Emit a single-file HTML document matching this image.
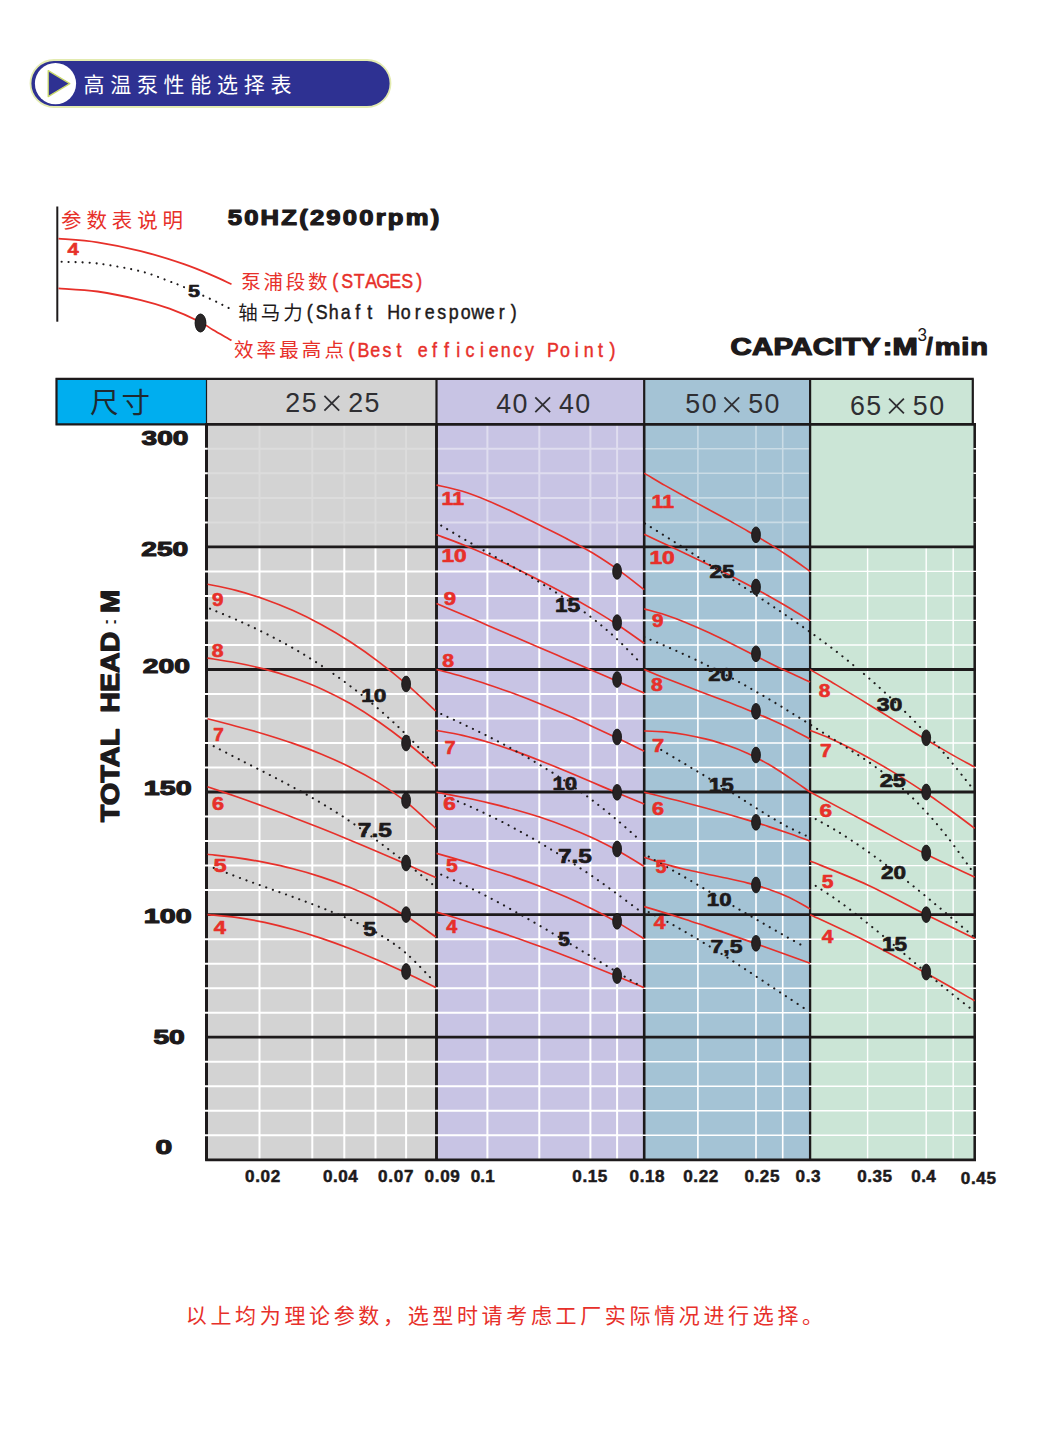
<!DOCTYPE html>
<html lang="zh"><head><meta charset="utf-8"><title>高温泵性能选择表</title>
<style>html,body{margin:0;padding:0;background:#fff}svg{display:block}text{font-family:"Liberation Sans",sans-serif}text.cjk{font-family:"Liberation Sans","Noto Sans CJK SC",sans-serif}</style></head><body>
<svg width="1042" height="1449" viewBox="0 0 1042 1449">
<rect width="1042" height="1449" fill="#fff"/>
<g><title>高温泵性能选择表</title>
<rect x="30.5" y="60" width="360" height="47" rx="23.5" fill="#2e3192" stroke="#e3ebb0" stroke-width="1.8"/>
<circle cx="55.5" cy="83.6" r="20.6" fill="#fff"/>
<path d="M48.2 70.6L69.8 83.6L48.2 96.6Z" fill="#2e3192" stroke="#c9d86a" stroke-width="1.3" stroke-linejoin="round"/>
<text class="cjk" x="83.5" y="91.8" font-size="21" letter-spacing="5.7" fill="#fff">高温泵性能选择表</text>
</g>
<g><title>参数表说明</title>
<path d="M57.3 206.5V321.7" stroke="#1d1a1b" stroke-width="2" fill="none"/>
<text class="cjk" x="61" y="227.8" font-size="20.5" letter-spacing="4.9" fill="#e7302a">参数表说明</text>
</g>
<text transform="translate(227.7 224.6) scale(1.17 1)" font-size="21.9" font-weight="bold" fill="#1d1a1b" stroke="#1d1a1b" stroke-width="1.2" stroke-linejoin="round" letter-spacing="1.883">50HZ(2900rpm)</text>
<path d="M58.5 238.6C65 239.2 83.9 240.2 97.6 242.3C111.3 244.4 126.4 247.5 140.8 251.1C155.2 254.7 172 260 184 264.1C196 268.2 204.9 272.2 212.8 275.6C220.7 279 228.4 282.9 231.5 284.3" fill="none" stroke="#e7302a" stroke-width="1.8"/>
<path d="M58.5 288.4C65 288.9 83.9 289.6 97.6 291.5C111.3 293.4 128.8 297.2 140.8 300.1C152.8 303 159.8 305.1 169.6 308.7C179.4 312.3 192.6 318.2 199.8 321.7C207 325.2 207.5 326.7 212.8 329.8C218.1 332.9 228.4 338.6 231.5 340.4" fill="none" stroke="#e7302a" stroke-width="1.8"/>
<path d="M61.6 261.8C67.6 262.1 84.4 261.9 97.6 263.5C110.8 265.1 128.8 268.3 140.8 271.3C152.8 274.3 162.4 278.8 169.6 281.4C176.8 284 176.8 284 184 287.1C191.2 290.2 205.1 296.5 212.8 300.1C220.5 303.7 227.1 307.3 230 308.7" fill="none" stroke="#1d1a1b" stroke-width="2.1" stroke-linecap="round" stroke-dasharray="0.1 6.9"/>
<ellipse cx="200.5" cy="323" rx="5.4" ry="9" fill="#2a2627" stroke="#111" stroke-width="1"/>
<text transform="translate(67.4 255.2) scale(1.302 1)" font-size="15.6" font-weight="bold" fill="#e7302a" stroke="#e7302a" stroke-width="0.5" stroke-linejoin="round">4</text>
<text transform="translate(188 297.3) scale(1.307 1)" font-size="16.5" font-weight="bold" fill="#1d1a1b" stroke="#1d1a1b" stroke-width="0.6" stroke-linejoin="round">5</text>
<g><title>泵浦段数(STAGES)</title>
<text class="cjk" x="241.3" y="288.5" font-size="19.5" letter-spacing="2.7" fill="#e7302a">泵浦段数</text>
<text transform="scale(0.9 1)" x="372.6 385.9 399.2 412.5 425.8 439.2 452.5 465.8" y="288.2" font-size="19.8" fill="#e7302a" stroke="#e7302a" stroke-width="0.45" text-anchor="middle">(STAGES)</text>
</g>
<g><title>轴马力(Shaft Horespower)</title>
<text class="cjk" x="238.3" y="319.6" font-size="19.5" letter-spacing="3" fill="#1d1a1b">轴马力</text>
<text transform="scale(0.9 1)" x="344.1 357.4 370.8 384.1 397.4 410.8 424.1 437.4 450.8 464.1 477.4 490.8 504.1 517.4 530.8 544.1 557.4 570.8" y="319.4" font-size="19.8" fill="#1d1a1b" stroke="#1d1a1b" stroke-width="0.45" text-anchor="middle">(Shaft&#160;Horespower)</text>
</g>
<g><title>效率最高点(Best efficiency Point)</title>
<text class="cjk" x="234" y="357.2" font-size="19.5" letter-spacing="3.1" fill="#e7302a">效率最高点</text>
<text transform="scale(0.9 1)" x="390.6 403.8 416.9 430.1 443.3 456.4 469.6 482.8 496 509.1 522.3 535.5 548.7 561.8 575 588.2 601.3 614.5 627.7 640.9 654 667.2 680.4" y="357.2" font-size="19.8" fill="#e7302a" stroke="#e7302a" stroke-width="0.45" text-anchor="middle">(Best&#160;efficiency&#160;Point)</text>
</g>
<text transform="translate(730.4 354.7) scale(1.28 1)" font-size="23" font-weight="bold" fill="#1d1a1b" stroke="#1d1a1b" stroke-width="1.2" stroke-linejoin="round" letter-spacing="0.209">CAPACITY</text>
<text transform="translate(883 354.8) scale(1.195 1)" font-size="23" font-weight="bold" fill="#1d1a1b" stroke="#1d1a1b" stroke-width="1.2" stroke-linejoin="round">:</text>
<text transform="translate(892.4 354.8) scale(1.319 1)" font-size="23" font-weight="bold" fill="#1d1a1b" stroke="#1d1a1b" stroke-width="1.2" stroke-linejoin="round">M</text>
<text transform="translate(917.5 341.4) scale(0.909 1)" font-size="18.8" font-weight="normal" fill="#1d1a1b">3</text>
<text transform="translate(926.1 354.6) scale(1.066 1)" font-size="23" font-weight="bold" fill="#1d1a1b" stroke="#1d1a1b" stroke-width="1" stroke-linejoin="round">/</text>
<text transform="translate(934.7 354.8) scale(1.26 1)" font-size="23" font-weight="bold" fill="#1d1a1b" stroke="#1d1a1b" stroke-width="1.2" stroke-linejoin="round" letter-spacing="0.704">min</text>
<rect x="56.5" y="378.9" width="150" height="45.4" fill="#00aeef"/>
<rect x="206.5" y="378.9" width="230" height="45.4" fill="#d3d3d3"/>
<rect x="436.5" y="378.9" width="207.7" height="45.4" fill="#c8c4e4"/>
<rect x="644.2" y="378.9" width="165.9" height="45.4" fill="#a4c3d5"/>
<rect x="810.1" y="378.9" width="162.7" height="45.4" fill="#cbe5d6"/>
<rect x="206.5" y="424.3" width="230" height="735.5" fill="#d3d3d3"/>
<rect x="436.5" y="424.3" width="207.7" height="735.5" fill="#c8c4e4"/>
<rect x="644.2" y="424.3" width="165.9" height="735.5" fill="#a4c3d5"/>
<rect x="810.1" y="424.3" width="164.6" height="735.5" fill="#cbe5d6"/>
<path d="M206.5 424.3V1160.8" stroke="#1d1a1b" stroke-width="3.0" fill="none"/>
<path d="M436.5 424.3V1160.8" stroke="#1d1a1b" stroke-width="2.9" fill="none"/>
<path d="M644.2 424.3V1160.8" stroke="#1d1a1b" stroke-width="2.6" fill="none"/>
<path d="M810.1 424.3V1160.8" stroke="#1d1a1b" stroke-width="2.3" fill="none"/>
<path d="M974.7 424.3V1160.8" stroke="#1d1a1b" stroke-width="2.55" fill="none"/>
<path d="M259.5 546.9V1159.8M312.3 546.9V1159.8M344.3 546.9V1159.8M375.5 546.9V1159.8M406.1 546.9V1159.8M204 571.4H435.1M204 595.9H435.1M204 620.4H435.1M204 645H435.1M204 694H435.1M204 718.5H435.1M204 743H435.1M204 767.5H435.1M204 816.6H435.1M204 841.1H435.1M204 865.6H435.1M204 890.1H435.1M204 939.2H435.1M204 963.7H435.1M204 988.2H435.1M204 1012.7H435.1M204 1061.7H435.1M204 1086.2H435.1M204 1110.8H435.1M204 1135.3H435.1M204 448.8H207.8M204 473.3H207.8M204 497.9H207.8M204 522.4H207.8" stroke="#fff" stroke-width="2.0" fill="none"/>
<path d="M259.5 424.3V546.9M312.3 424.3V546.9M344.3 424.3V546.9M375.5 424.3V546.9M406.1 424.3V546.9M207.8 448.8H435.2M207.8 473.3H435.2M207.8 497.9H435.2M207.8 522.4H435.2" stroke="#fff" stroke-width="2.0" fill="none" opacity="0.22"/>
<path d="M487.4 546.9V1159.8M539.3 546.9V1159.8M590.4 546.9V1159.8M617.1 546.9V1159.8M435.1 571.4H642.8M435.1 595.9H642.8M435.1 620.4H642.8M435.1 645H642.8M435.1 694H642.8M435.1 718.5H642.8M435.1 743H642.8M435.1 767.5H642.8M435.1 816.6H642.8M435.1 841.1H642.8M435.1 865.6H642.8M435.1 890.1H642.8M435.1 939.2H642.8M435.1 963.7H642.8M435.1 988.2H642.8M435.1 1012.7H642.8M435.1 1061.7H642.8M435.1 1086.2H642.8M435.1 1110.8H642.8M435.1 1135.3H642.8" stroke="#fff" stroke-width="2.0" fill="none"/>
<path d="M487.4 424.3V546.9M539.3 424.3V546.9M590.4 424.3V546.9M617.1 424.3V546.9M437.8 448.8H642.9M437.8 473.3H642.9M437.8 497.9H642.9M437.8 522.4H642.9" stroke="#fff" stroke-width="2.0" fill="none" opacity="0.42"/>
<path d="M697.9 546.9V1159.8M756 546.9V1159.8M782.7 546.9V1159.8M642.8 571.4H808.6M642.8 595.9H808.6M642.8 620.4H808.6M642.8 645H808.6M642.8 694H808.6M642.8 718.5H808.6M642.8 743H808.6M642.8 767.5H808.6M642.8 816.6H808.6M642.8 841.1H808.6M642.8 865.6H808.6M642.8 890.1H808.6M642.8 939.2H808.6M642.8 963.7H808.6M642.8 988.2H808.6M642.8 1012.7H808.6M642.8 1061.7H808.6M642.8 1086.2H808.6M642.8 1110.8H808.6M642.8 1135.3H808.6" stroke="#fff" stroke-width="1.6" fill="none"/>
<path d="M697.9 424.3V546.9M756 424.3V546.9M782.7 424.3V546.9M645.5 448.8H808.8M645.5 473.3H808.8M645.5 497.9H808.8M645.5 522.4H808.8" stroke="#fff" stroke-width="1.6" fill="none" opacity="0.42"/>
<path d="M867.6 546.9V1159.8M926.2 546.9V1159.8M953.2 546.9V1159.8M808.6 571.4H977.7M808.6 595.9H977.7M808.6 620.4H977.7M808.6 645H977.7M808.6 694H977.7M808.6 718.5H977.7M808.6 743H977.7M808.6 767.5H977.7M808.6 816.6H977.7M808.6 841.1H977.7M808.6 865.6H977.7M808.6 890.1H977.7M808.6 939.2H977.7M808.6 963.7H977.7M808.6 988.2H977.7M808.6 1012.7H977.7M808.6 1061.7H977.7M808.6 1086.2H977.7M808.6 1110.8H977.7M808.6 1135.3H977.7M973.4 448.8H977.7M973.4 473.3H977.7M973.4 497.9H977.7M973.4 522.4H977.7" stroke="#fff" stroke-width="1.4" fill="none"/>
<path d="M205.2 424.3H976M205.2 546.9H976M205.2 669.5H976M205.2 792H976M205.2 914.6H976M205.2 1037.2H976M205.2 1159.8H976" stroke="#1d1a1b" stroke-width="2.8" fill="none"/>
<path d="M55.5 378.9H973.8M56.5 377.9V425.3M55.5 424.3H206.5M436.5 378.9V424.3M644.2 378.9V424.3M810.1 378.9V424.3M972.8 378.9V424.3" stroke="#1d1a1b" stroke-width="2.2" fill="none"/>
<path d="M206.5 378.9V424.3" stroke="#1d1a1b" stroke-width="1.2" fill="none"/>
<g><title>尺寸</title><text class="cjk" x="90" y="412.5" font-size="28.5" letter-spacing="3" fill="#1f2a30">尺寸</text></g>
<text transform="translate(292.8 411.9) scale(0.94 1)" font-size="28.5" fill="#2f2f33" text-anchor="middle">2</text>
<text transform="translate(309.1 411.9) scale(0.94 1)" font-size="28.5" fill="#2f2f33" text-anchor="middle">5</text>
<text transform="translate(355.6 411.9) scale(0.94 1)" font-size="28.5" fill="#2f2f33" text-anchor="middle">2</text>
<text transform="translate(371.9 411.9) scale(0.94 1)" font-size="28.5" fill="#2f2f33" text-anchor="middle">5</text>
<path d="M324.4 395.9l14.8 14.8m0 -14.8l-14.8 14.8" stroke="#2f2f33" stroke-width="1.8" fill="none"/>
<text transform="translate(503.7 413.3) scale(0.94 1)" font-size="28.5" fill="#2f2f33" text-anchor="middle">4</text>
<text transform="translate(520 413.3) scale(0.94 1)" font-size="28.5" fill="#2f2f33" text-anchor="middle">0</text>
<text transform="translate(566.5 413.3) scale(0.94 1)" font-size="28.5" fill="#2f2f33" text-anchor="middle">4</text>
<text transform="translate(582.8 413.3) scale(0.94 1)" font-size="28.5" fill="#2f2f33" text-anchor="middle">0</text>
<path d="M535.3 397.3l14.8 14.8m0 -14.8l-14.8 14.8" stroke="#2f2f33" stroke-width="1.8" fill="none"/>
<text transform="translate(692.8 413.3) scale(0.94 1)" font-size="28.5" fill="#2f2f33" text-anchor="middle">5</text>
<text transform="translate(709.1 413.3) scale(0.94 1)" font-size="28.5" fill="#2f2f33" text-anchor="middle">0</text>
<text transform="translate(755.6 413.3) scale(0.94 1)" font-size="28.5" fill="#2f2f33" text-anchor="middle">5</text>
<text transform="translate(771.9 413.3) scale(0.94 1)" font-size="28.5" fill="#2f2f33" text-anchor="middle">0</text>
<path d="M724.4 397.3l14.8 14.8m0 -14.8l-14.8 14.8" stroke="#2f2f33" stroke-width="1.8" fill="none"/>
<text transform="translate(857.5 414.6) scale(0.94 1)" font-size="28.5" fill="#2f2f33" text-anchor="middle">6</text>
<text transform="translate(873.8 414.6) scale(0.94 1)" font-size="28.5" fill="#2f2f33" text-anchor="middle">5</text>
<text transform="translate(920.3 414.6) scale(0.94 1)" font-size="28.5" fill="#2f2f33" text-anchor="middle">5</text>
<text transform="translate(936.6 414.6) scale(0.94 1)" font-size="28.5" fill="#2f2f33" text-anchor="middle">0</text>
<path d="M889.1 398.6l14.8 14.8m0 -14.8l-14.8 14.8" stroke="#2f2f33" stroke-width="1.8" fill="none"/>
<path d="M207.5 584.2C212.3 585.2 226.5 587.9 236 590.4C245.5 592.9 255.1 595.8 264.6 599.2C274.1 602.5 283.6 606.3 293.1 610.6C302.6 614.8 312.1 619.6 321.6 624.8C331.2 630 340.7 635.6 350.2 641.8C359.7 648 369.2 654.6 378.7 661.8C388.2 668.9 397.8 676.6 407.3 684.8C416.8 693 431 706.6 435.8 711M207.5 658.1C212.3 658.9 226.5 661 236 662.8C245.5 664.6 255.1 666.7 264.6 669.1C274.1 671.6 283.6 674.4 293.1 677.7C302.6 681 312.1 684.6 321.6 688.9C331.2 693.3 340.7 698.1 350.2 703.5C359.7 709 369.2 715.1 378.7 721.7C388.2 728.3 397.8 735.5 407.3 743C416.8 750.6 431 762.9 435.8 766.9M207.5 718.8C212.3 720 226.5 723.6 236 726.2C245.5 728.7 255.1 731.3 264.6 734.2C274.1 737.1 283.6 740.1 293.1 743.4C302.6 746.7 312.1 750.3 321.6 754.2C331.2 758.2 340.7 762.4 350.2 767.2C359.7 771.9 369.2 777 378.7 782.9C388.2 788.9 397.8 795.3 407.3 802.9C416.8 810.5 431 824.2 435.8 828.5M207.5 786.8C212.3 788.4 226.5 793.2 236 796.5C245.5 799.8 255.1 803.2 264.6 806.7C274.1 810.2 283.6 813.7 293.1 817.4C302.6 821 312.1 824.7 321.6 828.5C331.2 832.3 340.7 836.2 350.2 840.2C359.7 844.1 369.2 848.1 378.7 852.2C388.2 856.3 397.8 860.5 407.3 864.7C416.8 868.9 431 875.4 435.8 877.6M207.5 854.2C212.3 854.8 226.5 856.3 236 857.6C245.5 859 255.1 860.5 264.6 862.4C274.1 864.3 283.6 866.3 293.1 868.8C302.6 871.2 312.1 874 321.6 877.1C331.2 880.2 340.7 883.7 350.2 887.6C359.7 891.6 369.2 895.8 378.7 900.7C388.2 905.6 397.8 911 407.3 917C416.8 923 431 933.6 435.8 937M207.5 914.6C212.3 915.1 226.5 916.1 236 917.4C245.5 918.7 255.1 920.4 264.6 922.4C274.1 924.5 283.6 926.9 293.1 929.5C302.6 932.2 312.1 935.2 321.6 938.4C331.2 941.6 340.7 945.1 350.2 948.8C359.7 952.5 369.2 956.5 378.7 960.6C388.2 964.7 397.8 969.1 407.3 973.5C416.8 978 431 985.1 435.8 987.4M436.5 485.1C440.8 486.1 453.8 488.7 462.5 491.3C471.1 494 479.8 497.4 488.4 500.9C497.1 504.5 505.7 508.6 514.4 512.7C523 516.8 531.7 521.2 540.4 525.5C549 529.8 557.7 533.9 566.3 538.5C575 543.1 583.6 547.6 592.3 552.8C600.9 558.1 609.6 563.7 618.2 569.9C626.9 576 639.9 586.4 644.2 589.7M436.5 534.8C440.8 536.4 453.8 541 462.5 544.4C471.1 547.9 479.8 551.6 488.4 555.5C497.1 559.4 505.7 563.6 514.4 567.8C523 572 531.7 576.4 540.4 580.8C549 585.3 557.7 589.7 566.3 594.5C575 599.2 583.6 604 592.3 609.1C600.9 614.2 609.6 619.5 618.2 625.2C626.9 630.9 639.9 640.3 644.2 643.3M436.5 603.4C440.8 605.2 453.8 610.8 462.5 614.5C471.1 618.2 479.8 621.9 488.4 625.7C497.1 629.4 505.7 633.1 514.4 636.8C523 640.5 531.7 644.2 540.4 648C549 651.7 557.7 655.4 566.3 659.2C575 662.9 583.6 666.7 592.3 670.4C600.9 674.2 609.6 678 618.2 681.8C626.9 685.5 639.9 691.3 644.2 693.2M436.5 669.5C440.8 670.7 453.8 674 462.5 676.5C471.1 679.1 479.8 681.8 488.4 684.7C497.1 687.5 505.7 690.6 514.4 693.8C523 697 531.7 700.4 540.4 703.9C549 707.4 557.7 711 566.3 714.8C575 718.5 583.6 722.4 592.3 726.4C600.9 730.3 609.6 734.4 618.2 738.6C626.9 742.7 639.9 749.2 644.2 751.3M436.5 730.5C440.8 731.3 453.8 733.4 462.5 735.4C471.1 737.4 479.8 739.8 488.4 742.3C497.1 744.9 505.7 747.8 514.4 750.9C523 754 531.7 757.3 540.4 760.7C549 764.1 557.7 767.7 566.3 771.3C575 774.9 583.6 778.6 592.3 782.3C600.9 786 609.6 789.7 618.2 793.3C626.9 796.9 639.9 802.2 644.2 803.9M436.5 792.3C440.8 793.1 453.8 795.5 462.5 797.2C471.1 799 479.8 800.8 488.4 802.9C497.1 804.9 505.7 807.1 514.4 809.5C523 811.9 531.7 814.5 540.4 817.3C549 820.2 557.7 823.3 566.3 826.7C575 830.1 583.6 833.8 592.3 837.8C600.9 841.9 609.6 846.2 618.2 851C626.9 855.7 639.9 863.8 644.2 866.4M436.5 853.4C440.8 854.6 453.8 858.3 462.5 860.9C471.1 863.4 479.8 866 488.4 868.7C497.1 871.4 505.7 874.1 514.4 877.1C523 880 531.7 883.1 540.4 886.4C549 889.7 557.7 893.2 566.3 896.9C575 900.7 583.6 904.7 592.3 909C600.9 913.3 609.6 917.9 618.2 922.9C626.9 927.9 639.9 936.2 644.2 938.9M436.5 912.1C440.8 913.4 453.8 917.3 462.5 920C471.1 922.8 479.8 925.6 488.4 928.4C497.1 931.3 505.7 934.2 514.4 937.2C523 940.3 531.7 943.3 540.4 946.5C549 949.6 557.7 952.9 566.3 956.2C575 959.5 583.6 962.8 592.3 966.3C600.9 969.7 609.6 973.2 618.2 976.8C626.9 980.4 639.9 986 644.2 987.8M644.2 473.1C647.7 475.1 658 481.4 664.9 485.4C671.9 489.3 678.8 493.2 685.7 497C692.6 500.8 699.5 504.5 706.4 508.3C713.3 512 720.2 515.7 727.2 519.5C734.1 523.4 741 527.2 747.9 531.2C754.8 535.1 761.7 539.2 768.6 543.4C775.5 547.7 782.4 552.1 789.4 556.8C796.3 561.4 806.6 569 810.1 571.4M644.2 534.3C647.7 535.9 658 540.7 664.9 544C671.9 547.2 678.8 550.4 685.7 553.7C692.6 557 699.5 560.3 706.4 563.7C713.3 567 720.2 570.4 727.2 573.9C734.1 577.4 741 581 747.9 584.7C754.8 588.3 761.7 592.1 768.6 596C775.5 599.9 782.4 603.8 789.4 608C796.3 612.1 806.6 618.7 810.1 620.8M644.2 608.9C647.7 609.9 658 612.6 664.9 614.8C671.9 617.1 678.8 619.7 685.7 622.5C692.6 625.3 699.5 628.4 706.4 631.6C713.3 634.7 720.2 638.1 727.2 641.5C734.1 644.9 741 648.4 747.9 651.9C754.8 655.4 761.7 659 768.6 662.4C775.5 665.9 782.4 669.3 789.4 672.6C796.3 675.9 806.6 680.4 810.1 682M644.2 669.5C647.7 670.9 658 675.3 664.9 678.1C671.9 680.8 678.8 683.5 685.7 686.1C692.6 688.7 699.5 691.3 706.4 693.9C713.3 696.5 720.2 699.1 727.2 701.7C734.1 704.4 741 707 747.9 709.9C754.8 712.7 761.7 715.5 768.6 718.6C775.5 721.7 782.4 724.8 789.4 728.2C796.3 731.6 806.6 737.2 810.1 739M644.2 731C647.7 731.1 658 731.3 664.9 731.9C671.9 732.6 678.8 733.5 685.7 734.7C692.6 735.9 699.5 737.4 706.4 739.1C713.3 740.9 720.2 742.8 727.2 745.2C734.1 747.5 741 750.2 747.9 753.4C754.8 756.6 761.7 760.3 768.6 764.3C775.5 768.4 782.4 773 789.4 777.6C796.3 782.2 806.6 789.7 810.1 792.1M644.2 792.3C647.7 793.2 658 795.7 664.9 797.5C671.9 799.2 678.8 800.9 685.7 802.7C692.6 804.5 699.5 806.4 706.4 808.2C713.3 810.1 720.2 812 727.2 814C734.1 816 741 818 747.9 820.1C754.8 822.2 761.7 824.3 768.6 826.6C775.5 828.8 782.4 831.1 789.4 833.5C796.3 835.9 806.6 839.8 810.1 841M644.2 857.2C647.7 858.3 658 862.1 664.9 864.1C671.9 866.2 678.8 867.9 685.7 869.5C692.6 871.1 699.5 872.5 706.4 874C713.3 875.5 720.2 876.8 727.2 878.3C734.1 879.8 741 881.3 747.9 883.1C754.8 885 761.7 886.8 768.6 889.2C775.5 891.6 782.4 894.2 789.4 897.4C796.3 900.7 806.6 906.9 810.1 908.8M644.2 906.6C647.7 907.6 658 910.7 664.9 912.9C671.9 915 678.8 917.2 685.7 919.5C692.6 921.7 699.5 924.1 706.4 926.4C713.3 928.7 720.2 931.1 727.2 933.6C734.1 936 741 938.4 747.9 940.9C754.8 943.3 761.7 945.8 768.6 948.3C775.5 950.8 782.4 953.3 789.4 955.8C796.3 958.3 806.6 962 810.1 963.2M810.1 669.6C813.5 671.6 823.8 677.5 830.7 681.5C837.5 685.6 844.4 689.7 851.2 693.9C858.1 698 865 702.2 871.8 706.5C878.7 710.7 885.5 714.9 892.4 719.1C899.3 723.3 906.1 727.5 913 731.7C919.8 735.8 926.7 740 933.6 744C940.4 748 947.3 752 954.1 755.9C961 759.8 971.3 765.3 974.7 767.2M810.1 730.5C813.5 731.8 823.8 735.7 830.7 738.7C837.5 741.7 844.4 745 851.2 748.5C858.1 752 865 755.8 871.8 759.6C878.7 763.5 885.5 767.5 892.4 771.6C899.3 775.8 906.1 780.1 913 784.6C919.8 789 926.7 793.6 933.6 798.3C940.4 803.1 947.3 807.9 954.1 813C961 818 971.3 825.8 974.7 828.4M810.1 792C819.7 797.1 848.2 812.4 867.6 822.8C887 833.2 908.4 845.3 926.2 854.3C944.1 863.3 966.6 873.2 974.7 877M810.1 861C819.7 865 848.2 876 867.6 885C887 894 908.4 905.8 926.2 914.7C944.1 923.6 966.6 934.5 974.7 938.4M810.1 914.7C819.7 919.2 848.2 932.2 867.6 942C887 951.8 908.4 963.5 926.2 973.3C944.1 983.1 966.6 996.2 974.7 1000.8" fill="none" stroke="#e7302a" stroke-width="1.65"/>
<path d="M210 608.7C214.7 610.7 228.8 616.3 238.2 620.6C247.6 624.8 257 629.1 266.4 633.9C275.9 638.7 285.3 643.7 294.7 649.1C304.1 654.6 313.5 660.3 322.9 666.6C332.3 672.8 341.7 679.5 351.1 686.7C360.5 693.8 369.9 701.4 379.4 709.7C388.8 717.9 398.2 726.6 407.6 736C417 745.4 431.1 761.1 435.8 766.1M213.7 746.2C218.3 748.6 232.2 755.8 241.5 760.6C250.7 765.3 260 769.9 269.2 774.7C278.5 779.5 287.7 784.3 297 789.4C306.2 794.4 315.5 799.6 324.8 805.2C334 810.8 343.3 816.7 352.5 823C361.8 829.3 371 836 380.3 843C389.5 849.9 398.8 857.2 408 864.5C417.3 871.9 431.2 883.3 435.8 887.1M213.7 867.9C218.3 869.7 232 875 241.1 878.4C250.3 881.8 259.5 885 268.6 888.3C277.8 891.6 286.9 894.8 296.1 898.1C305.2 901.5 314.4 904.9 323.5 908.5C332.6 912.2 341.8 915.8 350.9 920C360.1 924.2 369.2 928.3 378.4 933.8C387.5 939.3 396.7 945.2 405.9 953C415 960.8 428.7 976 433.3 980.7M441.2 525.5C445.4 528 457.8 535.6 466.1 540.4C474.5 545.2 482.8 549.8 491.1 554.5C499.4 559.2 507.7 563.7 516 568.5C524.4 573.2 532.7 578 541 583.1C549.3 588.2 557.6 593.4 565.9 599C574.3 604.7 582.6 610.6 590.9 617.1C599.2 623.5 607.5 630.3 615.8 638C624.2 645.7 636.6 659.1 640.8 663.3M441.2 714C445.4 715.9 457.8 721.6 466.1 725.6C474.5 729.6 482.8 733.6 491.1 737.9C499.4 742.1 507.7 746.5 516 751.1C524.4 755.7 532.7 760.5 541 765.6C549.3 770.6 557.6 775.9 565.9 781.5C574.3 787.1 582.6 793 590.9 799.2C599.2 805.5 607.5 812 615.8 819C624.2 825.9 636.6 837.3 640.8 841M445 796C449.1 797.7 461.2 802.6 469.3 806.2C477.4 809.8 485.5 813.6 493.6 817.6C501.8 821.6 509.9 825.9 518 830.3C526.1 834.7 534.2 839.3 542.3 844.2C550.4 849 558.5 854 566.6 859.2C574.7 864.4 582.8 869.8 591 875.3C599.1 880.9 607.2 886.6 615.3 892.6C623.4 898.5 635.5 907.8 639.6 910.8M441.2 874.6C445.4 876.5 457.9 882 466.3 886C474.7 890.1 483 894.3 491.4 898.7C499.8 903.1 508.1 907.7 516.5 912.4C524.9 917 533.2 921.9 541.6 926.8C550 931.7 558.3 936.7 566.7 941.7C575.1 946.7 583.4 951.8 591.8 956.8C600.2 961.9 608.5 967 616.9 972C625.3 977 637.8 984.4 642 986.9M645 523.5C649.2 526.1 661.7 533.8 670 539.1C678.4 544.3 686.7 549.7 695.1 555.1C703.4 560.5 711.7 565.9 720.1 571.4C728.4 576.9 736.8 582.4 745.1 587.9C753.5 593.5 761.8 599 770.2 604.6C778.5 610.1 786.8 615.7 795.2 621.5C803.5 627.3 811.9 633.1 820.2 639.3C828.6 645.5 836.9 651.8 845.2 658.5C853.6 665.2 861.9 672.1 870.3 679.4C878.6 686.7 887 694.3 895.3 702.3C903.7 710.3 912 718.5 920.3 727.3C928.7 736 937 745.1 945.4 754.8C953.7 764.6 966.2 780.6 970.4 785.7M644.2 637.1C648.4 638.9 661.1 644.1 669.5 647.8C677.9 651.5 686.3 655.4 694.8 659.4C703.2 663.4 711.6 667.6 720.1 671.9C728.5 676.3 736.9 680.8 745.3 685.5C753.8 690.2 762.2 695.1 770.6 700.1C779.1 705.1 787.5 710.4 795.9 715.6C804.3 720.8 812.8 726.2 821.2 731.5C829.6 736.8 838 741.9 846.5 747.4C854.9 752.9 863.3 758.2 871.8 764.2C880.2 770.3 888.6 776.5 897 783.7C905.5 791 913.9 798.9 922.3 807.8C930.8 816.7 939.2 826.6 947.6 837.3C956 848 968.7 866.2 972.9 872M661.2 749.9C664.2 751.7 673.2 757 679.3 760.6C685.3 764.2 691.3 767.8 697.3 771.4C703.3 775 709.4 778.6 715.4 782.3C721.4 786 727.4 789.8 733.5 793.5C739.5 797.3 745.5 801.2 751.5 805.1C757.5 808.9 763.6 812.8 769.6 816.4C775.6 820 781.6 823.6 787.6 826.8C793.7 830 802.7 834.1 805.7 835.5M648.7 856.7C652 858.6 661.8 864 668.3 867.8C674.9 871.5 681.4 875.3 688 879.1C694.5 882.9 701.1 886.8 707.6 890.7C714.2 894.5 720.7 898.4 727.2 902.3C733.8 906.2 740.3 910.1 746.9 913.9C753.4 917.8 760 921.6 766.5 925.4C773.1 929.2 779.6 932.9 786.2 936.6C792.7 940.3 802.5 945.7 805.8 947.5M648.7 912.1C652 913.8 661.8 918.8 668.3 922.3C674.9 925.9 681.4 929.6 688 933.4C694.5 937.2 701.1 941.2 707.6 945.2C714.2 949.2 720.7 953.3 727.2 957.5C733.8 961.7 740.3 966 746.9 970.3C753.4 974.6 760 978.9 766.5 983.3C773.1 987.6 779.6 992 786.2 996.4C792.7 1000.7 802.5 1007.2 805.8 1009.4M815.7 819C819 820.9 828.8 826.2 835.4 830.1C841.9 834.1 848.5 838.3 855 842.7C861.5 847.1 868.1 851.7 874.6 856.4C881.2 861.2 887.8 866.1 894.3 871.1C900.8 876.2 907.4 881.4 914 886.7C920.5 891.9 927.1 897.3 933.6 902.8C940.1 908.2 946.7 913.7 953.2 919.3C959.8 924.8 969.6 933.1 972.9 935.9M815.7 885.8C818.9 887.9 828.6 894.1 835 898.6C841.5 903.1 847.9 907.9 854.4 912.9C860.8 917.8 867.3 923 873.7 928.2C880.2 933.5 886.6 938.9 893 944.3C899.5 949.7 905.9 955.3 912.4 960.8C918.8 966.2 925.3 971.8 931.7 977.2C938.2 982.6 944.6 987.9 951.1 993.1C957.5 998.3 967.2 1005.8 970.4 1008.3" fill="none" stroke="#1d1a1b" stroke-width="2.1" stroke-linecap="round" stroke-dasharray="0.1 6.9"/>
<g fill="#262223" stroke="#111" stroke-width="0.8">
<ellipse cx="406.1" cy="684" rx="4.45" ry="7.9"/>
<ellipse cx="406.1" cy="743" rx="4.45" ry="7.9"/>
<ellipse cx="406.1" cy="800.5" rx="4.45" ry="7.9"/>
<ellipse cx="406.1" cy="863" rx="4.45" ry="7.9"/>
<ellipse cx="406.1" cy="914.6" rx="4.45" ry="7.9"/>
<ellipse cx="406.1" cy="971.5" rx="4.45" ry="7.9"/>
<ellipse cx="617.1" cy="571.4" rx="4.45" ry="7.9"/>
<ellipse cx="617.1" cy="622.6" rx="4.45" ry="7.9"/>
<ellipse cx="617.1" cy="679.5" rx="4.45" ry="7.9"/>
<ellipse cx="617.1" cy="737" rx="4.45" ry="7.9"/>
<ellipse cx="617.1" cy="792.3" rx="4.45" ry="7.9"/>
<ellipse cx="617.1" cy="849" rx="4.45" ry="7.9"/>
<ellipse cx="617.1" cy="921.3" rx="4.45" ry="7.9"/>
<ellipse cx="617.1" cy="975.7" rx="4.45" ry="7.9"/>
<ellipse cx="756" cy="534.8" rx="4.45" ry="7.9"/>
<ellipse cx="756" cy="587" rx="4.45" ry="7.9"/>
<ellipse cx="756" cy="653.8" rx="4.45" ry="7.9"/>
<ellipse cx="756" cy="711.3" rx="4.45" ry="7.9"/>
<ellipse cx="756" cy="755" rx="4.45" ry="7.9"/>
<ellipse cx="756" cy="822.3" rx="4.45" ry="7.9"/>
<ellipse cx="756" cy="885" rx="4.45" ry="7.9"/>
<ellipse cx="756" cy="943.3" rx="4.45" ry="7.9"/>
<ellipse cx="926.2" cy="737.8" rx="4.45" ry="7.9"/>
<ellipse cx="926.2" cy="792" rx="4.45" ry="7.9"/>
<ellipse cx="926.2" cy="853" rx="4.45" ry="7.9"/>
<ellipse cx="926.2" cy="914.7" rx="4.45" ry="7.9"/>
<ellipse cx="926.2" cy="972.1" rx="4.45" ry="7.9"/>
</g>
<text transform="translate(212.1 606.2) scale(1.152 1)" font-size="17.9" font-weight="bold" fill="#e7302a" stroke="#e7302a" stroke-width="0.6" stroke-linejoin="round">9</text>
<text transform="translate(211.7 656.8) scale(1.185 1)" font-size="17.9" font-weight="bold" fill="#e7302a" stroke="#e7302a" stroke-width="0.6" stroke-linejoin="round">8</text>
<text transform="translate(213.2 740.9) scale(1.026 1)" font-size="18.5" font-weight="bold" fill="#e7302a" stroke="#e7302a" stroke-width="0.6" stroke-linejoin="round">7</text>
<text transform="translate(212.1 809.8) scale(1.208 1)" font-size="17.9" font-weight="bold" fill="#e7302a" stroke="#e7302a" stroke-width="0.6" stroke-linejoin="round">6</text>
<text transform="translate(213.4 871.7) scale(1.295 1)" font-size="18.2" font-weight="bold" fill="#e7302a" stroke="#e7302a" stroke-width="0.6" stroke-linejoin="round">5</text>
<text transform="translate(213.7 934.2) scale(1.192 1)" font-size="18.5" font-weight="bold" fill="#e7302a" stroke="#e7302a" stroke-width="0.6" stroke-linejoin="round">4</text>
<text transform="translate(441.5 504.5) scale(1.151 1)" font-size="18.5" font-weight="bold" fill="#e7302a" stroke="#e7302a" stroke-width="0.6" stroke-linejoin="round">11</text>
<text transform="translate(441.4 561.7) scale(1.268 1)" font-size="17.9" font-weight="bold" fill="#e7302a" stroke="#e7302a" stroke-width="0.6" stroke-linejoin="round">10</text>
<text transform="translate(443.8 605.4) scale(1.238 1)" font-size="17.9" font-weight="bold" fill="#e7302a" stroke="#e7302a" stroke-width="0.6" stroke-linejoin="round">9</text>
<text transform="translate(442.2 667) scale(1.185 1)" font-size="17.9" font-weight="bold" fill="#e7302a" stroke="#e7302a" stroke-width="0.6" stroke-linejoin="round">8</text>
<text transform="translate(444.5 754) scale(1.08 1)" font-size="18.5" font-weight="bold" fill="#e7302a" stroke="#e7302a" stroke-width="0.6" stroke-linejoin="round">7</text>
<text transform="translate(443.2 809.8) scale(1.262 1)" font-size="17.9" font-weight="bold" fill="#e7302a" stroke="#e7302a" stroke-width="0.6" stroke-linejoin="round">6</text>
<text transform="translate(445.9 871.7) scale(1.16 1)" font-size="18.2" font-weight="bold" fill="#e7302a" stroke="#e7302a" stroke-width="0.6" stroke-linejoin="round">5</text>
<text transform="translate(446.2 933) scale(1.068 1)" font-size="18.5" font-weight="bold" fill="#e7302a" stroke="#e7302a" stroke-width="0.6" stroke-linejoin="round">4</text>
<text transform="translate(651.5 507.5) scale(1.151 1)" font-size="18.5" font-weight="bold" fill="#e7302a" stroke="#e7302a" stroke-width="0.6" stroke-linejoin="round">11</text>
<text transform="translate(649.4 564.2) scale(1.279 1)" font-size="17.9" font-weight="bold" fill="#e7302a" stroke="#e7302a" stroke-width="0.6" stroke-linejoin="round">10</text>
<text transform="translate(652.1 627.1) scale(1.152 1)" font-size="17.9" font-weight="bold" fill="#e7302a" stroke="#e7302a" stroke-width="0.6" stroke-linejoin="round">9</text>
<text transform="translate(650.9 690.7) scale(1.185 1)" font-size="17.9" font-weight="bold" fill="#e7302a" stroke="#e7302a" stroke-width="0.6" stroke-linejoin="round">8</text>
<text transform="translate(651.9 751.9) scale(1.188 1)" font-size="18.5" font-weight="bold" fill="#e7302a" stroke="#e7302a" stroke-width="0.6" stroke-linejoin="round">7</text>
<text transform="translate(652.1 814.8) scale(1.208 1)" font-size="17.9" font-weight="bold" fill="#e7302a" stroke="#e7302a" stroke-width="0.6" stroke-linejoin="round">6</text>
<text transform="translate(655.4 873.4) scale(1.087 1)" font-size="18.2" font-weight="bold" fill="#e7302a" stroke="#e7302a" stroke-width="0.6" stroke-linejoin="round">5</text>
<text transform="translate(653.7 928.7) scale(1.144 1)" font-size="18.5" font-weight="bold" fill="#e7302a" stroke="#e7302a" stroke-width="0.6" stroke-linejoin="round">4</text>
<text transform="translate(818.7 697.3) scale(1.163 1)" font-size="17.9" font-weight="bold" fill="#e7302a" stroke="#e7302a" stroke-width="0.6" stroke-linejoin="round">8</text>
<text transform="translate(819.9 757.3) scale(1.134 1)" font-size="18.5" font-weight="bold" fill="#e7302a" stroke="#e7302a" stroke-width="0.6" stroke-linejoin="round">7</text>
<text transform="translate(819.5 817.2) scale(1.262 1)" font-size="17.9" font-weight="bold" fill="#e7302a" stroke="#e7302a" stroke-width="0.6" stroke-linejoin="round">6</text>
<text transform="translate(821.7 888) scale(1.16 1)" font-size="18.2" font-weight="bold" fill="#e7302a" stroke="#e7302a" stroke-width="0.6" stroke-linejoin="round">5</text>
<text transform="translate(821.8 942.8) scale(1.125 1)" font-size="18.5" font-weight="bold" fill="#e7302a" stroke="#e7302a" stroke-width="0.6" stroke-linejoin="round">4</text>
<text transform="translate(361.2 702) scale(1.181 1)" font-size="19.2" font-weight="bold" fill="#1d1a1b" stroke="#1d1a1b" stroke-width="0.7" stroke-linejoin="round">10</text>
<text transform="translate(357.8 837) scale(1.257 1)" font-size="19.5" font-weight="bold" fill="#1d1a1b" stroke="#1d1a1b" stroke-width="0.7" stroke-linejoin="round">7.5</text>
<text transform="translate(363.6 935.6) scale(1.154 1)" font-size="19.5" font-weight="bold" fill="#1d1a1b" stroke="#1d1a1b" stroke-width="0.7" stroke-linejoin="round">5</text>
<text transform="translate(555 612.4) scale(1.15 1)" font-size="19.5" font-weight="bold" fill="#1d1a1b" stroke="#1d1a1b" stroke-width="0.7" stroke-linejoin="round">15</text>
<text transform="translate(552.5 789.6) scale(1.156 1)" font-size="19.2" font-weight="bold" fill="#1d1a1b" stroke="#1d1a1b" stroke-width="0.7" stroke-linejoin="round">10</text>
<text transform="translate(557.9 863.2) scale(1.257 1)" font-size="19.5" font-weight="bold" fill="#1d1a1b" stroke="#1d1a1b" stroke-width="0.7" stroke-linejoin="round">7.5</text>
<text transform="translate(558.2 945.6) scale(1.077 1)" font-size="19.5" font-weight="bold" fill="#1d1a1b" stroke="#1d1a1b" stroke-width="0.7" stroke-linejoin="round">5</text>
<text transform="translate(709.4 578.2) scale(1.174 1)" font-size="19.2" font-weight="bold" fill="#1d1a1b" stroke="#1d1a1b" stroke-width="0.7" stroke-linejoin="round">25</text>
<text transform="translate(708.2 681.3) scale(1.15 1)" font-size="19.2" font-weight="bold" fill="#1d1a1b" stroke="#1d1a1b" stroke-width="0.7" stroke-linejoin="round">20</text>
<text transform="translate(708.8 792.1) scale(1.15 1)" font-size="19.5" font-weight="bold" fill="#1d1a1b" stroke="#1d1a1b" stroke-width="0.7" stroke-linejoin="round">15</text>
<text transform="translate(706.8 905.6) scale(1.156 1)" font-size="19.2" font-weight="bold" fill="#1d1a1b" stroke="#1d1a1b" stroke-width="0.7" stroke-linejoin="round">10</text>
<text transform="translate(710.5 953.4) scale(1.199 1)" font-size="19.2" font-weight="bold" fill="#1d1a1b" stroke="#1d1a1b" stroke-width="0.7" stroke-linejoin="round">7,5</text>
<text transform="translate(876.7 710.6) scale(1.202 1)" font-size="19.2" font-weight="bold" fill="#1d1a1b" stroke="#1d1a1b" stroke-width="0.7" stroke-linejoin="round">30</text>
<text transform="translate(879.7 787.3) scale(1.217 1)" font-size="19.2" font-weight="bold" fill="#1d1a1b" stroke="#1d1a1b" stroke-width="0.7" stroke-linejoin="round">25</text>
<text transform="translate(880.9 879.1) scale(1.174 1)" font-size="19.2" font-weight="bold" fill="#1d1a1b" stroke="#1d1a1b" stroke-width="0.7" stroke-linejoin="round">20</text>
<text transform="translate(882 951.4) scale(1.155 1)" font-size="19.5" font-weight="bold" fill="#1d1a1b" stroke="#1d1a1b" stroke-width="0.7" stroke-linejoin="round">15</text>
<text transform="translate(141.6 444.8) scale(1.36 1)" font-size="20.6" font-weight="bold" fill="#1d1a1b" stroke="#1d1a1b" stroke-width="1.1" stroke-linejoin="round">300</text>
<text transform="translate(141.3 556.1) scale(1.367 1)" font-size="20.6" font-weight="bold" fill="#1d1a1b" stroke="#1d1a1b" stroke-width="1.1" stroke-linejoin="round">250</text>
<text transform="translate(142.7 673) scale(1.373 1)" font-size="20.6" font-weight="bold" fill="#1d1a1b" stroke="#1d1a1b" stroke-width="1.1" stroke-linejoin="round">200</text>
<text transform="translate(143.8 794.8) scale(1.391 1)" font-size="20.6" font-weight="bold" fill="#1d1a1b" stroke="#1d1a1b" stroke-width="1.1" stroke-linejoin="round">150</text>
<text transform="translate(143.8 922.5) scale(1.391 1)" font-size="20.6" font-weight="bold" fill="#1d1a1b" stroke="#1d1a1b" stroke-width="1.1" stroke-linejoin="round">100</text>
<text transform="translate(153.4 1043.5) scale(1.37 1)" font-size="20.6" font-weight="bold" fill="#1d1a1b" stroke="#1d1a1b" stroke-width="1.1" stroke-linejoin="round">50</text>
<text transform="translate(155.6 1154.1) scale(1.458 1)" font-size="20.6" font-weight="bold" fill="#1d1a1b" stroke="#1d1a1b" stroke-width="1.1" stroke-linejoin="round">0</text>
<g transform="translate(119.3 822.7) rotate(-90)">
<text transform="translate(0.4 -0.8) scale(1.152 1)" font-size="25.1" font-weight="bold" fill="#1d1a1b" stroke="#1d1a1b" stroke-width="1.2" stroke-linejoin="round">TOTAL</text>
<text transform="translate(109.9 -0.6) scale(1.106 1)" font-size="25.9" font-weight="bold" fill="#1d1a1b" stroke="#1d1a1b" stroke-width="1.2" stroke-linejoin="round">HEAD</text>
<text transform="translate(196.3 -3) scale(1.769 1)" font-size="19" font-weight="normal" fill="#1d1a1b">:</text>
<text transform="translate(209.6 -0.6) scale(1.073 1)" font-size="25.9" font-weight="bold" fill="#1d1a1b" stroke="#1d1a1b" stroke-width="1.2" stroke-linejoin="round">M</text>
</g>
<text transform="translate(245 1182.3) scale(1 1)" font-size="17.1" font-weight="bold" fill="#1d1a1b" stroke="#1d1a1b" stroke-width="0.5" stroke-linejoin="round" letter-spacing="0.666">0.02</text>
<text transform="translate(323.1 1182.3) scale(1 1)" font-size="17.1" font-weight="bold" fill="#1d1a1b" stroke="#1d1a1b" stroke-width="0.5" stroke-linejoin="round" letter-spacing="0.502">0.04</text>
<text transform="translate(378.1 1182.3) scale(1 1)" font-size="17.1" font-weight="bold" fill="#1d1a1b" stroke="#1d1a1b" stroke-width="0.5" stroke-linejoin="round" letter-spacing="0.721">0.07</text>
<text transform="translate(424.6 1182.3) scale(1 1)" font-size="17.1" font-weight="bold" fill="#1d1a1b" stroke="#1d1a1b" stroke-width="0.5" stroke-linejoin="round" letter-spacing="0.649">0.09</text>
<text transform="translate(470.7 1182.3) scale(1 1)" font-size="17.1" font-weight="bold" fill="#1d1a1b" stroke="#1d1a1b" stroke-width="0.5" stroke-linejoin="round" letter-spacing="0.097">0.1</text>
<text transform="translate(572.3 1182.3) scale(1 1)" font-size="17.1" font-weight="bold" fill="#1d1a1b" stroke="#1d1a1b" stroke-width="0.5" stroke-linejoin="round" letter-spacing="0.596">0.15</text>
<text transform="translate(629.6 1182.3) scale(1 1)" font-size="17.1" font-weight="bold" fill="#1d1a1b" stroke="#1d1a1b" stroke-width="0.5" stroke-linejoin="round" letter-spacing="0.58">0.18</text>
<text transform="translate(683.2 1182.3) scale(1 1)" font-size="17.1" font-weight="bold" fill="#1d1a1b" stroke="#1d1a1b" stroke-width="0.5" stroke-linejoin="round" letter-spacing="0.599">0.22</text>
<text transform="translate(744.4 1182.3) scale(1 1)" font-size="17.1" font-weight="bold" fill="#1d1a1b" stroke="#1d1a1b" stroke-width="0.5" stroke-linejoin="round" letter-spacing="0.596">0.25</text>
<text transform="translate(795.5 1182.3) scale(1 1)" font-size="17.1" font-weight="bold" fill="#1d1a1b" stroke="#1d1a1b" stroke-width="0.5" stroke-linejoin="round" letter-spacing="0.641">0.3</text>
<text transform="translate(857.2 1182.3) scale(1 1)" font-size="17.1" font-weight="bold" fill="#1d1a1b" stroke="#1d1a1b" stroke-width="0.5" stroke-linejoin="round" letter-spacing="0.552">0.35</text>
<text transform="translate(911.3 1182.3) scale(1 1)" font-size="17.1" font-weight="bold" fill="#1d1a1b" stroke="#1d1a1b" stroke-width="0.5" stroke-linejoin="round" letter-spacing="0.405">0.4</text>
<text transform="translate(960.7 1183.6) scale(1 1)" font-size="17.1" font-weight="bold" fill="#1d1a1b" stroke="#1d1a1b" stroke-width="0.5" stroke-linejoin="round" letter-spacing="0.696">0.45</text>
<g><title>以上均为理论参数，选型时请考虑工厂实际情况进行选择。</title>
<text class="cjk" x="185.8" y="1322.5" font-size="21" letter-spacing="3.65" fill="#e7302a">以上均为理论参数，选型时请考虑工厂实际情况进行选择。</text>
</g>
</svg></body></html>
